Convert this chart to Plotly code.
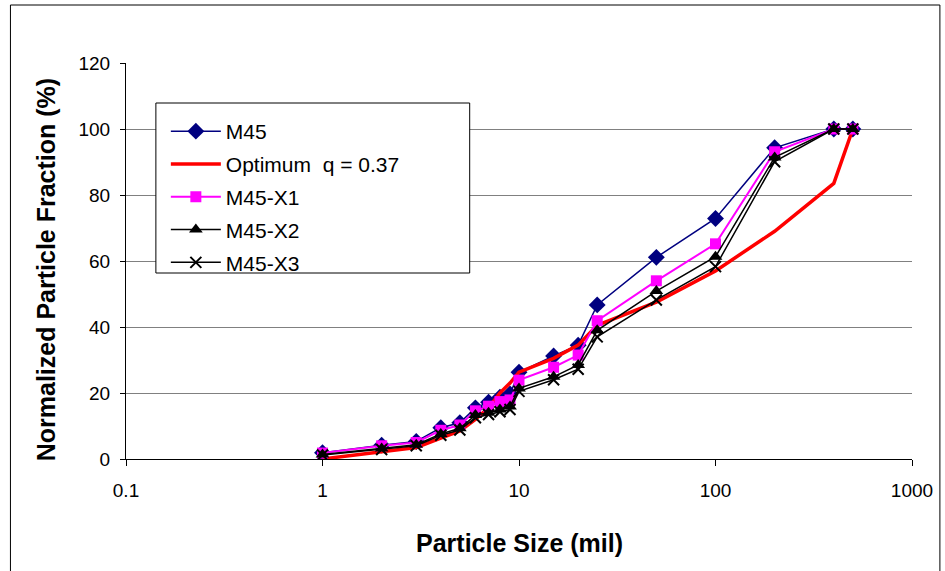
import plotly.graph_objects as go

sizes = [1, 2, 3, 4, 5, 6, 7, 8, 9, 10, 15, 20, 25, 50, 100, 200, 400, 500]
m45 = [1.9, 4.2, 5.3, 9.5, 11.0, 15.5, 17.2, 18.7, 19.7, 26.3, 31.2, 34.5, 46.7, 61.1, 72.9, 94.3, 100, 100]
optimum = [0, 2.2, 3.5, 6.3, 8.5, 12.0, 15.5, 20.0, 23.0, 26.3, 30.5, 34.5, 40.5, 47.5, 57.0, 69.0, 83.5, 100]
m45_x1 = [1.8, 4.0, 5.0, 8.7, 10.3, 14.6, 16.0, 17.4, 17.9, 23.9, 27.8, 31.5, 41.9, 54.0, 65.2, 93.1, 100, 100]
m45_x2 = [1.4, 3.2, 4.3, 7.6, 9.3, 13.3, 14.0, 15.0, 15.9, 21.4, 24.9, 28.5, 39.0, 50.9, 61.3, 91.4, 100, 100]
m45_x3 = [1.2, 2.9, 4.0, 7.2, 8.8, 12.5, 13.5, 14.3, 15.0, 20.5, 24.0, 27.2, 37.0, 48.2, 58.3, 90.1, 100, 100]

x_ticks = [0.1, 1, 10, 100, 1000]
x_ticktext = ["0.1", "1", "10", "100", "1000"]

FONT = "Liberation Sans, Arial, sans-serif"

fig = go.Figure()
fig.add_trace(go.Scatter(x=sizes, y=m45, name="M45", mode="lines+markers",
                         line=dict(color="#000080", width=1.5),
                         marker=dict(symbol="diamond", size=13, color="#000080"),
                         legendgroup="a"))
fig.add_trace(go.Scatter(x=sizes, y=optimum, name="Optimum\u00a0\u00a0q = 0.37", mode="lines",
                         line=dict(color="#FF0000", width=3.5), legendgroup="b"))
fig.add_trace(go.Scatter(x=sizes, y=m45_x1, name="M45-X1", mode="lines+markers",
                         line=dict(color="#FF00FF", width=2),
                         marker=dict(symbol="square", size=11, color="#FF00FF"),
                         legendgroup="c"))
fig.add_trace(go.Scatter(x=sizes, y=m45_x2, name="M45-X2", mode="lines+markers",
                         line=dict(color="#000000", width=1.5),
                         marker=dict(symbol="triangle-up", size=12, color="#000000"),
                         legendgroup="d"))
fig.add_trace(go.Scatter(x=sizes, y=m45_x3, name="M45-X3", mode="lines+markers",
                         line=dict(color="#000000", width=1.5),
                         marker=dict(symbol="x-thin", size=11, color="#000000",
                                     line=dict(color="#000000", width=2)),
                         legendgroup="e"))

L, R, T, B = 126, 30, 63, 112
PW, PH = 945 - L - R, 571 - T - B

def px(xp):
    return (xp - L) / PW

def py(yp):
    return (571 - B - yp) / PH

fig.update_layout(
    width=945, height=571,
    margin=dict(l=L, r=R, t=T, b=B),
    paper_bgcolor="white", plot_bgcolor="white",
    font=dict(family=FONT, size=19, color="black"),
    showlegend=True,
    legend=dict(x=px(166), y=py(111), xanchor="left", yanchor="top",
                bgcolor="rgba(0,0,0,0)", borderwidth=0,
                font=dict(family=FONT, size=21, color="black"),
                itemwidth=50, traceorder="grouped", tracegroupgap=2.5),
    xaxis=dict(type="log", range=[-1, 3], tickvals=x_ticks, ticktext=x_ticktext,
               showgrid=False, showline=True, linecolor="black", linewidth=1,
               ticks="outside", ticklen=6, tickcolor="black",
               ticklabelstandoff=8, zeroline=False),
    yaxis=dict(range=[0, 120], dtick=20, showgrid=True, gridcolor="#808080", gridwidth=1,
               showline=True, linecolor="black", linewidth=1,
               ticks="outside", ticklen=5, tickcolor="black",
               ticklabelstandoff=6, zeroline=False),
    shapes=[
        dict(type="rect", xref="paper", yref="paper",
             x0=px(156), x1=px(471), y0=py(273), y1=py(103),
             line=dict(color="black", width=1), fillcolor="white", layer="above"),
        dict(type="rect", xref="paper", yref="paper",
             x0=px(10), x1=px(943), y0=py(590), y1=py(5),
             line=dict(color="black", width=1), fillcolor="rgba(0,0,0,0)", layer="below"),
    ],
    annotations=[
        dict(text="<b>Particle Size (mil)</b>", xref="paper", yref="paper",
             x=px(521), y=py(543), showarrow=False, xanchor="center", yanchor="middle",
             font=dict(family=FONT, size=25, color="black")),
        dict(text="<b>Normalized Particle Fraction (%)</b>", xref="paper", yref="paper",
             x=px(46), y=py(270), showarrow=False, xanchor="center", yanchor="middle",
             textangle=-90, font=dict(family=FONT, size=25, color="black")),
    ],
)

fig.write_html("out.html")
